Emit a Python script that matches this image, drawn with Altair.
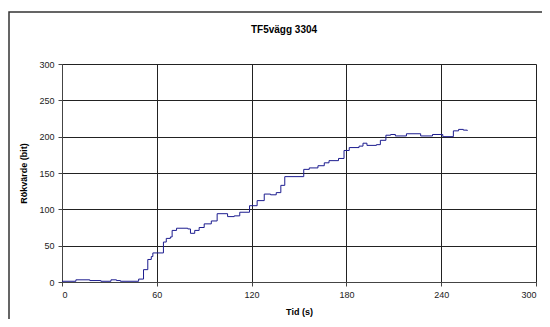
import altair as alt
import pandas as pd

title_text = "TF5vägg 3304"
x_title = "Tid (s)"
y_title = "Rökvärde (bit)"

tid = [0, 8.8, 17.6, 24.6, 31, 34.5, 37, 48.5, 51.6, 54.3, 56.5, 57.5,
       64.2, 66, 68.6, 69.7, 72.5, 79.6, 81.3, 84, 86.8, 90, 94.5, 98.2,
       104.8, 109, 112.5, 118.7, 123.5, 128, 132, 135.6, 138.5, 141, 153,
       156.5, 162, 166, 169, 175, 178.5, 181.8, 188, 190.5, 193, 199, 201.5,
       205, 208, 211, 218, 227, 234.5, 241, 247.7, 251, 254, 256.5]
rokvarde = [1, 3, 2, 1, 3, 2, 1, 4, 17, 31, 35, 40,
            55, 60, 62, 71, 74, 73, 67, 71, 75, 80, 84, 94,
            90, 91, 96, 105, 112, 121, 120, 123, 133, 145, 155,
            157, 160, 164, 167, 170, 181, 185, 187, 191, 188, 189, 195,
            202, 203, 201, 204, 201, 203, 200, 208, 210, 209, 208]

x_ticks = [0, 60, 120, 180, 240, 300]
y_ticks = [0, 50, 100, 150, 200, 250, 300]

df = pd.DataFrame({"t": tid, "v": rokvarde})

font = "Liberation Sans"

line = alt.Chart(df).mark_line(
    interpolate="step-after", color="#1c1c8f", strokeWidth=1
).encode(
    x=alt.X("t:Q", scale=alt.Scale(domain=[0, 300], nice=False),
            axis=alt.Axis(values=x_ticks, title=x_title, grid=True,
                          gridColor="#222", gridOpacity=1, gridWidth=1,
                          domainColor="#444", tickColor="#444", tickSize=4,
                          labelFont=font, labelFontSize=9, labelColor="#222",
                          labelPadding=4, titleFont=font, titleFontSize=9,
                          titleFontWeight="bold", titleColor="#000",
                          titlePadding=8)),
    y=alt.Y("v:Q", scale=alt.Scale(domain=[0, 300], nice=False),
            axis=alt.Axis(values=y_ticks, title=y_title, grid=True,
                          gridColor="#222", gridOpacity=1, gridWidth=1,
                          domainColor="#444", tickColor="#444", tickSize=4,
                          labelFont=font, labelFontSize=9, labelColor="#222",
                          labelPadding=4, titleFont=font, titleFontSize=9,
                          titleFontWeight="bold", titleColor="#000",
                          titlePadding=10)),
)

frame = alt.Chart(pd.DataFrame({"a": [0]})).mark_rect(
    fill="transparent", stroke="#333", strokeWidth=1.5
).encode(
    x=alt.value(-53), x2=alt.value(520), y=alt.value(-52), y2=alt.value(300)
)

title = alt.Chart(pd.DataFrame({"label": [title_text]})).mark_text(
    font=font, fontSize=10, fontWeight="bold", color="#000",
    align="center", baseline="middle"
).encode(
    text="label:N", x=alt.value(222), y=alt.value(-34)
)

chart = alt.layer(frame, line, title).properties(
    width=474, height=218,
    padding={"left": 54, "top": 56, "right": 6, "bottom": 37},
    autosize=alt.AutoSizeParams(type="none"),
).configure_view(stroke="#444", strokeWidth=1).configure(background="white")

chart.save("out.html", embed_options={"renderer": "svg", "actions": False})
